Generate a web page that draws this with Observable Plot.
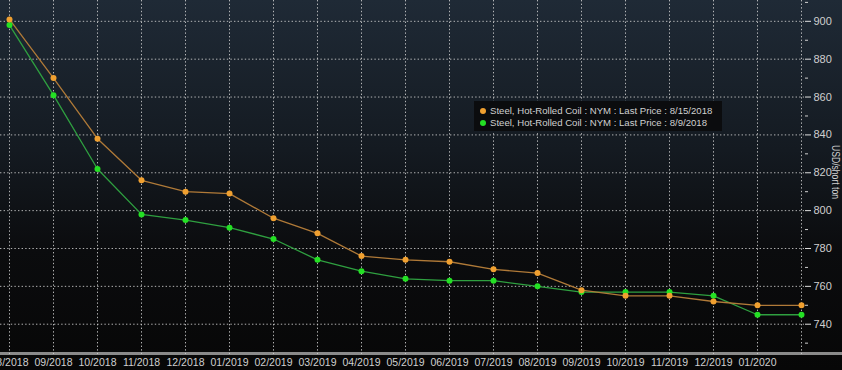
<!DOCTYPE html>
<html><head><meta charset="utf-8">
<script src="https://cdn.jsdelivr.net/npm/d3@7"></script>
<script src="https://cdn.jsdelivr.net/npm/@observablehq/plot@0.6"></script>
<style>
html,body{margin:0;padding:0;background:#000;}
#wrap{position:relative;width:842px;height:370px;overflow:hidden;
background:linear-gradient(to bottom,#1f2a36 0px,#141a21 150px,#0b0c0e 250px,#070707 370px);}
#base{position:absolute;left:0;top:352px;width:842px;height:3px;background:#8a8a8a;}
#legend{position:absolute;left:474px;top:101px;width:248px;height:30px;background:#0b0c0e;
font-family:"Liberation Sans",Arial,sans-serif;font-size:9.6px;color:#d0d0d0;}
#legend div{position:absolute;left:6px;white-space:nowrap;}
#legend span.d{display:inline-block;width:6px;height:6px;border-radius:3px;margin-right:4px;vertical-align:0px;}
#ylab{position:absolute;left:836px;top:172px;transform:translate(-50%,-50%) rotate(90deg) scaleX(0.78);
white-space:nowrap;font-family:"Liberation Sans",Arial,sans-serif;font-size:11px;color:#cfcfcf;}
svg{position:absolute;left:0;top:0;}
</style></head>
<body><div id="wrap"><div id="base"></div></div>
<script>
const months = ["08/2018","09/2018","10/2018","11/2018","12/2018","01/2019","02/2019","03/2019","04/2019","05/2019","06/2019","07/2019","08/2019","09/2019","10/2019","11/2019","12/2019","01/2020","02/2020"];
const price0815 = [901,870,838,816,810,809,796,788,776,774,773,769,767,758,755,755,752,750,750];
const price0809 = [898,861,822,798,795,791,785,774,768,764,763,763,760,757,757,757,755,745,745];
const seriesNames = ["Steel, Hot-Rolled Coil : NYM : Last Price : 8/15/2018","Steel, Hot-Rolled Coil : NYM : Last Price : 8/9/2018"];
const yTicks = [740,760,780,800,820,840,860,880,900];
const yMinor = [730,750,770,790,810,830,850,870,890,910];
const xLabels = months.slice(0, months.length - 1);
const yLabel = "USD/short ton";

const orangeDot = "#f0a030", orangeLine = "#b07a38";
const greenDot = "#24e024", greenLine = "#2fa040";

const rows = [];
months.forEach((m,i)=>{
  rows.push({month:m, value:price0815[i], s:seriesNames[0]});
  rows.push({month:m, value:price0809[i], s:seriesNames[1]});
});
const A = rows.filter(d=>d.s===seriesNames[0]);
const B = rows.filter(d=>d.s===seriesNames[1]);
const grid = {stroke:"#d0d0d0", strokeOpacity:0.85, strokeDasharray:"1.4,2.2", strokeWidth:1};

const chart = Plot.plot({
  width:842, height:370,
  marginLeft:0, marginRight:38, marginTop:0, marginBottom:16,
  style:{background:"transparent", color:"#cfcfcf", fontFamily:"'Liberation Sans',Arial,sans-serif", overflow:"visible"},
  x:{type:"point", domain:months, range:[5,804], padding:0, axis:null},
  y:{domain:[724,911], range:[354,0], axis:null},
  marks:[
    Plot.ruleY(yTicks, grid),
    Plot.ruleX(months, {...grid}),
    Plot.ruleY([724], {x1:"01/2019", x2:"02/2020", stroke:"#86c986", strokeWidth:1.5, dy:-1}),
    Plot.axisY(yMinor, {anchor:"right", tickSize:3, tickFormat:()=>"", stroke:"#cfcfcf", label:null}),
    Plot.axisY(yTicks, {anchor:"right", tickSize:6, tickPadding:3, fontSize:11, stroke:"#e0e0e0", fill:"#cfcfcf", label:null}),
    Plot.axisX(xLabels, {anchor:"bottom", tickSize:0, tickPadding:4, fontSize:10.5, fill:"#cfcfcf", label:null}),
    Plot.line(B, {x:"month", y:"value", stroke:greenLine, strokeWidth:1.3}),
    Plot.line(A, {x:"month", y:"value", stroke:orangeLine, strokeWidth:1.3}),
    Plot.dot(B, {x:"month", y:"value", r:3, fill:greenDot}),
    Plot.dot(A, {x:"month", y:"value", r:3, fill:orangeDot})
  ]
});
const wrap = document.getElementById("wrap");
wrap.appendChild(chart);
const lg = document.createElement("div");
lg.id = "legend";
lg.innerHTML = `<div style="top:4px"><span class="d" style="background:${orangeDot}"></span>${seriesNames[0]}</div>
<div style="top:16px"><span class="d" style="background:${greenDot}"></span>${seriesNames[1]}</div>`;
wrap.appendChild(lg);
const yl = document.createElement("div");
yl.id = "ylab";
yl.textContent = yLabel;
wrap.appendChild(yl);
</script></body></html>
